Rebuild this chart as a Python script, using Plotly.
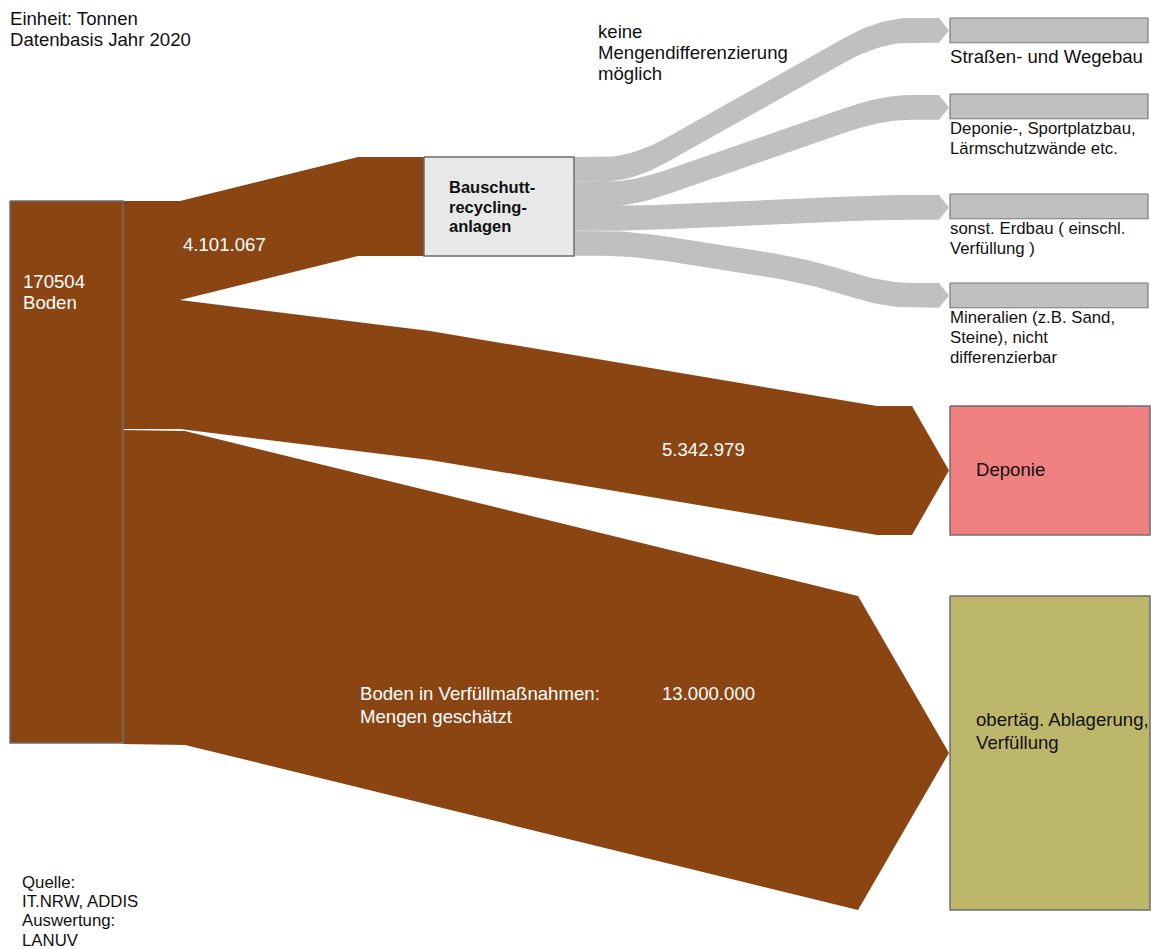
import numpy as np
import plotly.graph_objects as go

# ------------------------------------------------------------------ data
unit_lines = ["Einheit: Tonnen", "Datenbasis Jahr 2020"]
source_lines = ["170504", "Boden"]
flow_targets = ["Bauschutt-recycling-anlagen", "Deponie", "obertäg. Ablagerung, Verfüllung"]
flow_values = [4101067, 5342979, 13000000]
flow_value_labels = ["4.101.067", "5.342.979", "13.000.000"]
recycling_lines = ["Bauschutt-", "recycling-", "anlagen"]
deponie_lines = ["Deponie"]
verfuellung_lines = ["obertäg. Ablagerung,", "Verfüllung"]
verfuellung_note = ["Boden in Verfüllmaßnahmen:", "Mengen geschätzt"]
recycling_note = ["keine", "Mengendifferenzierung", "möglich"]
recycling_targets = [
    ["Straßen- und Wegebau"],
    ["Deponie-, Sportplatzbau,", "Lärmschutzwände etc."],
    ["sonst. Erdbau ( einschl.", "Verfüllung )"],
    ["Mineralien (z.B. Sand,", "Steine), nicht", "differenzierbar"],
]
source_note = ["Quelle:", "IT.NRW, ADDIS", "Auswertung:", "LANUV"]

# ------------------------------------------------------------------ layout geometry (canvas px)
W, H = 1151, 949
BROWN = "#8B4513"
GREY_FLOW = "#C0C0C0"
EDGE = "#6E6E6E"
FONT = "Liberation Sans, Arial, sans-serif"
SCALE = 542.0 / sum(flow_values)          # px per tonne
heights = [v * SCALE for v in flow_values]

SRC = dict(x0=10, x1=123, y0=201)
TARGET_X0, TARGET_X1 = 950, 1150
ARROW_TIP_X = 949
REC_BOX = dict(x0=424, x1=574, y0=157)
DEP_BOX_Y0 = 406
VERF_BOX_Y0 = 596
TEXT_DX = -2   # annotation padding compensation

flow_top_knots = [
    [(123, 201), (180, 201), (358, 157), (424, 157)],
    [(123, 300), (180, 300), (430, 331), (877, 406), (912, 406)],
    [(123, 430), (185, 431), (858, 596)],
]
flow_has_arrow = [False, True, True]

grey_h = heights[0] / len(recycling_targets)
grey_top_knots = [
    [(574, 157), (632, 157), (880, 18), (939, 18)],
    [(574, 182), (632, 182), (882, 95), (939, 95)],
    [(574, 206), (632, 206), (882, 195), (939, 195)],
    [(574, 231), (632, 231), (810, 259), (884, 283), (939, 283)],
]
grey_box_y0 = [18, 94, 194, 283]
grey_label_y0 = [56, 128, 228, 317]


def smooth(points, r=30, n=14):
    pts = np.array(points, float)
    out = [pts[0]]
    for i in range(1, len(pts) - 1):
        p0, p1, p2 = pts[i - 1], pts[i], pts[i + 1]
        d1, d2 = p0 - p1, p2 - p1
        l1, l2 = np.hypot(*d1), np.hypot(*d2)
        a = p1 + d1 / l1 * min(r, l1 / 2)
        b = p1 + d2 / l2 * min(r, l2 / 2)
        t = np.linspace(0, 1, n)[:, None]
        out.extend((1 - t) ** 2 * a + 2 * (1 - t) * t * p1 + t ** 2 * b)
    out.append(pts[-1])
    return np.array(out)


def band(top_knots, h, tip_x=None, r=0):
    top = np.array(top_knots, float)
    bot = top + np.array([0, h])
    if r:
        top, bot = smooth(top, r), smooth(bot, r)
    xs, ys = list(top[:, 0]), list(top[:, 1])
    if tip_x is not None:
        xs.append(tip_x)
        ys.append(top[-1, 1] + h / 2)
    xs += list(bot[::-1, 0])
    ys += list(bot[::-1, 1])
    return xs, ys


fig = go.Figure()


def poly(xs, ys, fill, line_color=None, lw=0):
    fig.add_trace(go.Scatter(
        x=xs, y=ys, mode="lines", fill="toself", fillcolor=fill,
        line=dict(color=line_color or fill, width=lw),
        hoverinfo="skip", showlegend=False))


def rect(x0, x1, y0, h, fill, edge=EDGE, lw=1.5):
    poly([x0, x1, x1, x0, x0], [y0, y0, y0 + h, y0 + h, y0], fill, edge, lw)


# grey flows (undifferentiated)
for knots in grey_top_knots:
    xs, ys = band(knots, grey_h, tip_x=ARROW_TIP_X, r=40)
    poly(xs, ys, GREY_FLOW)

# brown flows
for knots, h, arr in zip(flow_top_knots, heights, flow_has_arrow):
    xs, ys = band(knots, h, tip_x=ARROW_TIP_X if arr else None)
    poly(xs, ys, BROWN)

# nodes
rect(SRC["x0"], SRC["x1"], SRC["y0"], sum(heights), BROWN)
rect(REC_BOX["x0"], REC_BOX["x1"], REC_BOX["y0"], heights[0], "#E8E8E8")
rect(TARGET_X0, TARGET_X1, DEP_BOX_Y0, heights[1], "#F08080")
rect(TARGET_X0, TARGET_X1, VERF_BOX_Y0, heights[2], "#BDB76B")
for y0 in grey_box_y0:
    rect(TARGET_X0, TARGET_X1 - 2, y0, grey_h, "#C0C0C0", "#7A7A7A", 1.2)

# text
annotations = []


def text(lines, x, y, size=18.6, color="#111111", spacing=21, bold=False):
    for i, s in enumerate(lines):
        annotations.append(dict(
            x=x + TEXT_DX, y=y + i * spacing, xref="x", yref="y",
            text=f"<b>{s}</b>" if bold else s,
            showarrow=False, xanchor="left", yanchor="middle",
            font=dict(family=FONT, size=size, color=color)))


text(unit_lines, 10, 18)
text(recycling_note, 598, 31)
text([flow_value_labels[0]], 183, 244, color="white")
text(source_lines, 23, 281, color="white")
text(recycling_lines, 449, 187, size=16.5, spacing=19.5, bold=True)
text([flow_value_labels[1]], 662, 449, color="white")
text(deponie_lines, 976, 469)
text(verfuellung_note, 360, 693, color="white", spacing=23)
text([flow_value_labels[2]], 662, 693, color="white")
text(verfuellung_lines, 976, 719, spacing=23)
text(source_note, 22, 882, size=16.8, spacing=19.4)
text(recycling_targets[0], 950, grey_label_y0[0])
for lines, y in zip(recycling_targets[1:], grey_label_y0[1:]):
    text(lines, 950, y, size=16.8, spacing=20)

fig.update_layout(
    width=W, height=H, margin=dict(l=0, r=0, t=0, b=0),
    paper_bgcolor="white", plot_bgcolor="white",
    xaxis=dict(range=[0, W], visible=False, fixedrange=True),
    yaxis=dict(range=[H, 0], visible=False, fixedrange=True),
    annotations=annotations, showlegend=False,
)

fig.write_html(
    "out.html",
    config={"displayModeBar": False},
    post_script="document.body.style.margin='0';document.body.style.overflow='hidden';",
)
